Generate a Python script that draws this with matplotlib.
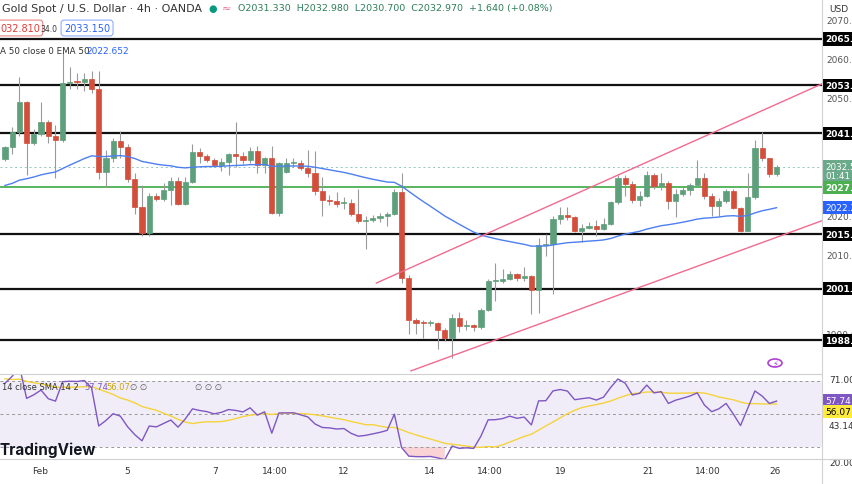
import matplotlib
matplotlib.use("Agg")
import matplotlib.pyplot as plt
import matplotlib.transforms as mtransforms
from matplotlib.patches import Circle
import numpy as np
import pandas as pd

# 4h candles: open, high, low, close
opens = [2034.7, 2037.6, 2041.4, 2049.1, 2038.7, 2040.9, 2044.0, 2040.6, 2039.6, 2054.0,
         2054.4, 2054.3, 2055.1, 2052.5, 2031.3, 2034.8, 2039.3, 2037.6, 2029.6, 2022.3,
         2015.7, 2025.3, 2024.5, 2026.8, 2029.1, 2023.2, 2028.7, 2036.5, 2035.3, 2034.5,
         2033.0, 2034.0, 2035.8, 2035.3, 2034.5, 2036.8, 2033.0, 2034.8, 2020.9, 2031.3,
         2033.6, 2033.6, 2032.4, 2031.1, 2026.6, 2024.2, 2023.9, 2023.3, 2023.4, 2020.5,
         2018.8, 2019.0, 2019.5, 2020.0, 2020.6, 2026.3, 2004.3, 1993.6, 1992.8, 1992.7,
         1992.8, 1991.1, 1989.0, 1994.1, 1992.0, 1992.2, 1991.7, 1996.2, 2003.5, 2003.5,
         2004.1, 2005.2, 2004.2, 2004.7, 2001.1, 2012.8, 2012.9, 2019.4, 2020.4, 2019.8,
         2016.4, 2017.0, 2017.5, 2016.7, 2018.1, 2023.6, 2029.7, 2028.3, 2024.1, 2025.1,
         2030.6, 2027.7, 2028.5, 2023.9, 2025.7, 2026.8, 2028.0, 2029.7, 2025.3, 2022.6,
         2023.9, 2026.4, 2022.1, 2016.4, 2024.9, 2037.4, 2034.8, 2030.8]
closes = [2037.6, 2041.4, 2049.1, 2038.7, 2040.9, 2044.0, 2040.6, 2039.6, 2054.0, 2054.4,
          2054.3, 2055.1, 2052.5, 2031.3, 2034.8, 2039.3, 2037.6, 2029.6, 2022.3, 2015.7,
          2025.3, 2024.5, 2026.8, 2029.1, 2023.2, 2028.7, 2036.5, 2035.3, 2034.5, 2033.0,
          2034.0, 2035.8, 2035.3, 2034.5, 2036.8, 2033.0, 2034.8, 2020.9, 2033.6, 2033.6,
          2033.7, 2032.4, 2031.1, 2026.6, 2024.2, 2023.9, 2023.2, 2023.4, 2020.5, 2018.7,
          2019.0, 2019.5, 2020.0, 2020.6, 2026.3, 2004.3, 1993.5, 1992.8, 1992.7, 1992.8,
          1991.1, 1989.0, 1994.1, 1992.0, 1992.2, 1991.7, 1996.2, 2003.5, 2003.6, 2004.1,
          2005.2, 2004.2, 2004.7, 2001.1, 2012.8, 2012.9, 2019.4, 2020.4, 2019.8, 2016.4,
          2017.0, 2017.5, 2016.7, 2018.1, 2023.6, 2029.7, 2028.3, 2024.1, 2025.1, 2030.6,
          2027.7, 2028.5, 2023.9, 2025.7, 2026.8, 2028.0, 2029.7, 2025.3, 2022.6, 2023.9,
          2026.4, 2022.1, 2016.4, 2024.9, 2037.4, 2034.8, 2030.8, 2032.5]
highs = [2038.0, 2042.7, 2055.5, 2049.5, 2042.3, 2049.1, 2044.6, 2043.2, 2061.9, 2058.2,
         2056.5, 2056.5, 2057.0, 2057.0, 2037.0, 2040.0, 2041.8, 2038.5, 2031.0, 2028.0,
         2026.0, 2026.0, 2028.5, 2030.0, 2030.0, 2030.0, 2038.5, 2037.5, 2036.0, 2034.8,
         2035.0, 2036.2, 2044.0, 2036.5, 2037.8, 2038.0, 2035.2, 2038.0, 2034.0, 2034.8,
         2035.0, 2034.5, 2037.0, 2036.8, 2030.0, 2025.5, 2026.3, 2025.0, 2024.5, 2027.0,
         2020.0, 2020.3, 2020.8, 2021.0, 2027.0, 2031.0, 2005.0, 1994.0, 1993.5, 1993.5,
         1993.0, 1991.5, 1995.0, 1995.5, 1993.5, 1992.5, 1996.6, 2004.0, 2008.0, 2006.6,
         2006.0, 2005.6, 2007.0, 2005.0, 2014.5, 2015.5, 2020.0, 2022.5, 2022.5, 2020.0,
         2018.0, 2018.5, 2019.0, 2019.5, 2024.0, 2030.5, 2030.5, 2029.0, 2026.5, 2031.7,
         2031.0, 2031.0, 2029.0, 2027.0, 2027.5, 2028.5, 2034.5, 2031.0, 2026.0, 2024.8,
         2027.0, 2027.0, 2022.5, 2031.0, 2039.5, 2041.5, 2035.0, 2033.0]
lows = [2034.2, 2036.0, 2040.6, 2030.6, 2038.1, 2040.6, 2038.7, 2029.7, 2039.0, 2052.5,
        2052.5, 2052.0, 2051.5, 2029.5, 2027.6, 2034.0, 2035.0, 2028.7, 2020.7, 2015.0,
        2015.0, 2023.8, 2024.0, 2023.0, 2023.0, 2022.8, 2028.5, 2033.6, 2033.8, 2032.5,
        2031.5, 2030.5, 2032.6, 2033.3, 2033.6, 2031.0, 2031.0, 2020.7, 2020.0, 2031.0,
        2032.5, 2031.8, 2030.0, 2025.5, 2020.2, 2023.0, 2022.3, 2022.0, 2020.0, 2018.3,
        2011.6, 2018.5, 2018.6, 2017.5, 2020.3, 2003.0, 1990.0, 1990.1, 1989.0, 1992.0,
        1986.3, 1988.2, 1984.0, 1990.5, 1991.0, 1990.8, 1991.4, 1995.8, 1998.3, 2003.0,
        2003.8, 2003.5, 2003.5, 1995.0, 1995.3, 2010.0, 2000.2, 2018.0, 2019.0, 2016.0,
        2013.5, 2016.8, 2015.0, 2016.5, 2017.8, 2023.2, 2025.2, 2023.4, 2022.7, 2025.0,
        2027.0, 2026.8, 2021.9, 2019.9, 2025.3, 2025.4, 2027.5, 2024.5, 2020.2, 2020.2,
        2023.5, 2021.8, 2016.0, 2016.4, 2024.5, 2034.2, 2030.0, 2030.2]

ema_seed = 2027.5          # EMA 50 value just before the first visible candle
# closes before the window, to warm up RSI and its SMA
rsi_seed = [2024.0, 2026.5, 2025.2, 2027.8, 2026.4, 2029.0, 2027.5, 2030.1, 2028.6, 2031.2,
            2029.8, 2032.3, 2030.9, 2033.2, 2031.8, 2034.0, 2032.6, 2035.0, 2033.4, 2035.6,
            2034.1, 2036.2, 2034.6, 2036.0, 2034.3, 2035.8, 2034.0, 2034.7]

levels_black = [2065.3, 2053.4, 2041.2, 2015.5, 2001.6, 1988.4]
level_green = 2027.4
chan_upper = [(51.5, 2003.0), (113.3, 2053.8)]
chan_lower = [(56.3, 1980.6), (113.3, 2018.9)]

price_ticks = [2070, 2060, 2050, 2030, 2020, 2010, 1990]
date_pos = [4.85, 16.9, 29.1, 37.4, 46.9, 58.9, 67.3, 77.0, 89.2, 97.5, 106.8]
date_labels = ["Feb", "5", "7", "14:00", "12", "14", "14:00", "19", "21", "14:00", "26"]

UP = "#5e9f7c"
DN = "#d44e3c"

n = len(closes)
idx = np.arange(n)
ema = pd.Series([ema_seed] + closes).ewm(span=50, adjust=False).mean().to_numpy()[1:]
allc = pd.Series(rsi_seed + closes)
d = allc.diff()
gain = d.clip(lower=0).ewm(alpha=1 / 14, adjust=False).mean()
loss = (-d.clip(upper=0)).ewm(alpha=1 / 14, adjust=False).mean()
rsi_all = 100 - 100 / (1 + gain / loss)
rsi_sma = rsi_all.rolling(14, min_periods=1).mean().to_numpy()[len(rsi_seed):]
rsi = rsi_all.to_numpy()[len(rsi_seed):]

W, H = 852, 485
fig = plt.figure(figsize=(W / 100, H / 100), dpi=100)
ax = fig.add_axes([0, (H - 375) / H, 822 / W, 375 / H])
ar = fig.add_axes([0, (H - 460) / H, 822 / W, 85 / H])
xlim = (-0.69, 113.3)

# candles
for i in range(n):
    c = UP if closes[i] >= opens[i] else DN
    ax.vlines(i, lows[i], highs[i], color="#9a9a9a", lw=0.8, zorder=2)
    lo, hi = sorted([opens[i], closes[i]])
    ax.bar(i, max(hi - lo, 0.25), bottom=lo, width=0.72, color=c,
           edgecolor=c, lw=0.5, zorder=3)

for lv in levels_black:
    ax.axhline(lv, color="#111111", lw=1.6, zorder=1)
ax.axhline(level_green, color="#4caf50", lw=1.3, zorder=1)
ax.axhline(closes[-1], color="#8fc7b6", lw=0.7, ls=(0, (2, 3)), zorder=1)
ax.plot(idx, ema, color="#4d7ff0", lw=1.0, zorder=4)
for ch in (chan_upper, chan_lower):
    ax.plot([ch[0][0], ch[1][0]], [ch[0][1], ch[1][1]], color="#f06b8f", lw=1.0, zorder=4)

ax.set_xlim(*xlim)
ax.set_ylim(1979.8, 2075.45)
ax.axis("off")

# right price axis labels
trans = mtransforms.blended_transform_factory(fig.transFigure, ax.transData)
for t in price_ticks:
    ax.text(826 / W, t, f"{t}.0", transform=trans, fontsize=6.5, color="#555555",
            va="center", ha="left", clip_on=False, zorder=1)
for lv in levels_black:
    ax.text(825 / W, lv, f"{lv:.1f}", transform=trans, fontsize=6.5, color="white",
            weight="bold", va="center", ha="left", zorder=5,
            bbox=dict(boxstyle="square,pad=0.25", fc="black", ec="none"))
ax.text(825 / W, closes[-1] - 0.9, f"{closes[-1]:.1f}\n01:41", transform=trans,
        fontsize=6.3, color="white", va="center", ha="left", linespacing=1.05, zorder=5,
        bbox=dict(boxstyle="square,pad=0.2", fc="#6aaa8a", ec="none"))
ax.text(825 / W, level_green, f"{level_green:.1f}", transform=trans, fontsize=6.5,
        color="white", weight="bold", va="center", ha="left", zorder=6,
        bbox=dict(boxstyle="square,pad=0.2", fc="#4caf50", ec="none"))
ax.text(825 / W, ema[-1], f"{ema[-1]:.1f}", transform=trans, fontsize=6.5,
        color="white", va="center", ha="left", zorder=6,
        bbox=dict(boxstyle="square,pad=0.2", fc="#2962ff", ec="none"))
fig.text(829 / W, 1 - 10 / H, "USD", fontsize=6.5, color="#333333", va="center")

# RSI panel
ar.axhspan(30, 70, color="#7e57c2", alpha=0.1, lw=0)
for lv in (70, 50, 30):
    ar.axhline(lv, color="#999999", lw=0.7, ls=(0, (3, 3)))
ar.fill_between(idx, rsi, 30, where=rsi < 30, color="#f8c8cc", alpha=0.8, lw=0)
ar.plot(idx, rsi_sma, color="#f5d33a", lw=1.0)
ar.plot(idx, rsi, color="#7e57c2", lw=1.0)
ar.set_xlim(*xlim)
ar.set_ylim(22.7, 74.2)
ar.axis("off")
trans2 = mtransforms.blended_transform_factory(fig.transFigure, ar.transData)
ar.text(829 / W, 71, "71.00", transform=trans2, fontsize=6.5, color="#333333", va="center")
ar.text(829 / W, 43.14, "43.14", transform=trans2, fontsize=6.5, color="#333333", va="center")
ar.text(829 / W, 20.8, "20.00", transform=trans2, fontsize=6.5, color="#333333", va="center")
ar.text(825 / W, 58.3, "57.74", transform=trans2, fontsize=6.5, color="white", va="center",
        bbox=dict(boxstyle="square,pad=0.2", fc="#7e57c2", ec="none"))
ar.text(825 / W, 51.3, "56.07", transform=trans2, fontsize=6.5, color="black", va="center",
        bbox=dict(boxstyle="square,pad=0.2", fc="#ffeb3b", ec="none"))

# frame lines
fig.add_artist(plt.Line2D([822 / W, 822 / W], [0, 1], color="#d0d0d0", lw=0.8))
fig.add_artist(plt.Line2D([0, 822 / W], [1 - 375 / H, 1 - 375 / H], color="#d0d0d0", lw=0.8))
fig.add_artist(plt.Line2D([0, 1], [1 - 460 / H, 1 - 460 / H], color="#d0d0d0", lw=0.8))

# date axis
for p, lab in zip(date_pos, date_labels):
    xf = (p - xlim[0]) / (xlim[1] - xlim[0]) * 822 / W
    fig.text(xf, 1 - 472 / H, lab, fontsize=6.5, color="#333333", ha="center", va="center")

# header texts
fig.text(2 / W, 1 - 9 / H, "Gold Spot / U.S. Dollar · 4h · OANDA", fontsize=8,
         color="#333333", va="center")
fig.text(208 / W, 1 - 9 / H, "●", fontsize=7, color="#089981", va="center")
fig.text(222 / W, 1 - 9 / H, "≈", fontsize=8, color="#f06b8f", va="center")
fig.text(238 / W, 1 - 9 / H, "O2031.330  H2032.980  L2030.700  C2032.970  +1.640 (+0.08%)",
         fontsize=6.8, color="#2e7d5b", va="center")
fig.text(0, 1 - 29 / H, "032.810", fontsize=7, color="#e53935", va="center",
         bbox=dict(boxstyle="round,pad=0.3", fc="white", ec="#e57373", lw=0.7))
fig.text(40 / W, 1 - 29 / H, "34.0", fontsize=5.5, color="#333333", va="center")
fig.text(64 / W, 1 - 29 / H, "2033.150", fontsize=7, color="#2962ff", va="center",
         bbox=dict(boxstyle="round,pad=0.3", fc="white", ec="#7ea1ff", lw=0.7))
fig.text(0, 1 - 51 / H, "A 50 close 0 EMA 50", fontsize=6.3, color="#333333", va="center")
fig.text(86 / W, 1 - 51 / H, "2022.652", fontsize=6.5, color="#2962ff", va="center")
fig.text(2 / W, 1 - 387 / H, "14 close SMA 14 2", fontsize=6, color="#333333", va="center")
fig.text(84 / W, 1 - 387 / H, "57.74", fontsize=6, color="#7e57c2", va="center")
fig.text(106 / W, 1 - 387 / H, "56.07", fontsize=6, color="#c9a800", va="center")
fig.text(130 / W, 1 - 387 / H, "∅ ∅", fontsize=6, color="#555555", va="center")
fig.text(195 / W, 1 - 387 / H, "∅ ∅ ∅", fontsize=6, color="#555555", va="center")
fig.text(0, 1 - 450 / H, "TradingView", fontsize=11, weight="bold", color="#131722",
         va="center", fontfamily="Inter")
fig.add_artist(Circle((775 / W, 1 - 364 / H), 7 / W, transform=fig.transFigure,
                      fill=False, ec="#b040d0", lw=1.2))
fig.text(775 / W, 1 - 364 / H, "⚡", fontsize=6, color="#b040d0", ha="center", va="center")

fig.savefig("out.png", dpi=100)
